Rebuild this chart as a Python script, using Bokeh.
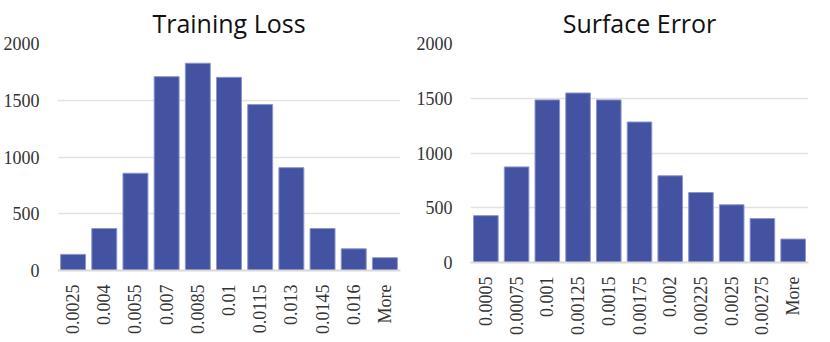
import math
from bokeh.plotting import figure
from bokeh.layouts import row
from bokeh.models import ColumnDataSource, Range1d, FixedTicker
from bokeh.embed import file_html
from bokeh.resources import INLINE

loss_bins = ["0.0025", "0.004", "0.0055", "0.007", "0.0085", "0.01", "0.0115",
             "0.013", "0.0145", "0.016", "More"]
loss_counts = [142, 370, 857, 1708, 1826, 1702, 1462, 906, 370, 191, 113]

err_bins = ["0.0005", "0.00075", "0.001", "0.00125", "0.0015", "0.00175", "0.002",
            "0.00225", "0.0025", "0.00275", "More"]
err_counts = [428, 873, 1485, 1548, 1485, 1283, 792, 639, 527, 401, 214]

y_ticks = [0, 500, 1000, 1500, 2000]

BAR = "#4452A2"


def make(title, bins, counts, fw, fh, bl, br, bt, bb):
    src = ColumnDataSource(dict(x=bins, y=counts))
    p = figure(x_range=bins, y_range=Range1d(0, 2000), frame_width=fw, frame_height=fh,
               output_backend="svg", toolbar_location=None,
               min_border_left=bl, min_border_right=br, min_border_top=bt,
               min_border_bottom=bb, title=title)
    p.vbar(x="x", top="y", width=0.8, source=src, fill_color=BAR,
           line_color="#8d96c8", line_width=1)
    p.title.align = "center"
    p.title.text_font = "Open Sans"
    p.title.text_font_size = "25px"
    p.title.text_font_style = "normal"
    p.title.text_color = "#111111"
    p.title.standoff = 7
    p.outline_line_color = None
    p.xgrid.grid_line_color = None
    p.ygrid.grid_line_color = "#e2e2e2"
    p.ygrid.grid_line_width = 1.5
    p.yaxis.ticker = FixedTicker(ticks=y_ticks)
    p.yaxis.axis_line_color = None
    p.yaxis.major_tick_line_color = None
    p.yaxis.minor_tick_line_color = None
    p.yaxis.major_tick_out = 0
    p.yaxis.major_tick_in = 0
    p.yaxis.major_label_text_font = "Liberation Serif"
    p.yaxis.major_label_text_font_size = "18px"
    p.yaxis.major_label_text_color = "#333333"
    p.yaxis.major_label_standoff = 18
    p.xaxis.axis_line_color = "#d9d9d9"
    p.xaxis.axis_line_width = 2
    p.xaxis.major_tick_line_color = None
    p.xaxis.minor_tick_line_color = None
    p.xaxis.major_tick_out = 0
    p.xaxis.major_tick_in = 0
    p.xaxis.major_label_orientation = math.pi / 2
    p.xaxis.major_label_text_font = "Liberation Serif"
    p.xaxis.major_label_text_font_size = "18px"
    p.xaxis.major_label_text_color = "#333333"
    p.xaxis.major_label_standoff = 14
    p.background_fill_color = "white"
    p.border_fill_color = "white"
    return p


p1 = make("Training Loss", loss_bins, loss_counts, 343, 227, 54, 13, 40, 0)
p2 = make("Surface Error", err_bins, err_counts, 338, 219, 54, 12, 40, 0)

layout = row(p1, p2)
open("out.html", "w").write(file_html(layout, INLINE))
